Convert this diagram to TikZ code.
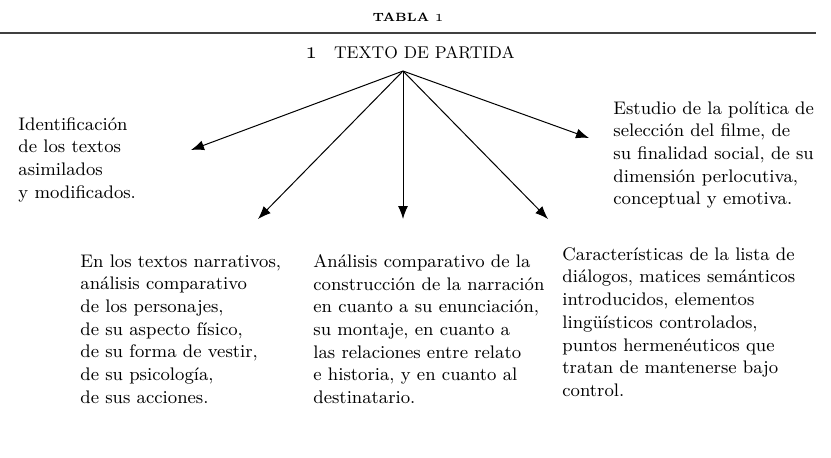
\documentclass[tikz,border=0pt]{standalone}
\usepackage{fontspec}
\usepackage{tikz}
\usetikzlibrary{arrows.meta,positioning}

\newcommand{\osone}[1]{{\fontsize{#1}{#1}\usefont{OML}{cmm}{m}{it}1}}

\begin{document}
\begin{tikzpicture}[
            x=0.5pt, y=-0.5pt,
            txt/.style={anchor=north west, align=left, inner sep=0pt, font=\fontsize{9.1}{11.35}\selectfont},
            arrow/.style={-{Latex[length=6.5pt, width=5pt]}, line width=0.5pt}
        ]
        \useasboundingbox (0,0) rectangle (831,457);
        \node[anchor=base, inner sep=0pt, font=\fontsize{6}{7}\selectfont\bfseries] (tabla) at (408,21) {TABLA \osone{8.5}};
        \draw[line width=0.75pt, black!75] (0,33) -- (816,33);
        \node[anchor=base, inner sep=0pt, font=\fontsize{8.5}{10}\selectfont] (root) at (410,58) {\osone{12}\quad TEXTO DE PARTIDA};
        \coordinate (hub) at (403,71);
        % the five branches
        \node[txt] (ident) at (18,117) {Identificación\\de los textos\\asimilados\\y modificados.};
        \node[txt] (estudio) at (613,101) {Estudio de la política de\\selección del filme, de\\su finalidad social, de su\\dimensión perlocutiva,\\conceptual y emotiva.};
        \node[txt] (narr) at (80,254) {En los textos narrativos,\\análisis comparativo\\de los personajes,\\de su aspecto físico,\\de su forma de vestir,\\de su psicología,\\de sus acciones.};
        \node[txt] (anal) at (313,254) {Análisis comparativo de la\\construcción de la narración\\en cuanto a su enunciación,\\su montaje, en cuanto a\\las relaciones entre relato\\e historia, y en cuanto al\\destinatario.};
        \node[txt] (carac) at (562,247) {Características de la lista de\\diálogos, matices semánticos\\introducidos, elementos\\lingüísticos controlados,\\puntos hermenéuticos que\\tratan de mantenerse bajo\\control.};
        \coordinate (tipA) at (191,150);
        \coordinate (tipB) at (258,219);
        \coordinate (tipC) at (403,219);
        \coordinate (tipD) at (548,219);
        \coordinate (tipE) at (589,138);
        \draw[arrow] (hub) -- (tipA);
        \draw[arrow] (hub) -- (tipB);
        \draw[arrow] (hub) -- (tipC);
        \draw[arrow] (hub) -- (tipD);
        \draw[arrow] (hub) -- (tipE);
\end{tikzpicture}
\end{document}
